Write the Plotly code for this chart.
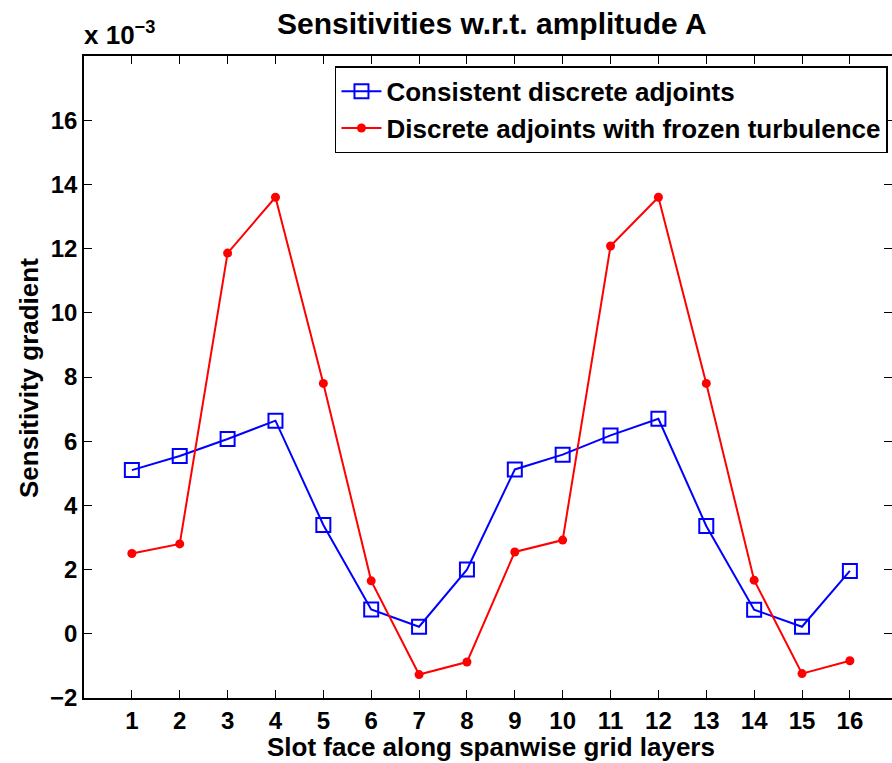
import plotly.graph_objects as go

layers = list(range(1, 17))
consistent = [5.10, 5.54, 6.07, 6.64, 3.39, 0.76, 0.22, 2.00,
              5.12, 5.58, 6.18, 6.70, 3.36, 0.75, 0.22, 1.96]
frozen = [2.50, 2.80, 11.86, 13.60, 7.80, 1.65, -1.27, -0.88,
          2.55, 2.92, 12.08, 13.60, 7.80, 1.67, -1.24, -0.84]
yticks = [-2, 0, 2, 4, 6, 8, 10, 12, 14, 16]

W, H = 892, 763
L, T, B = 84, 56, 65
FONT = "Liberation Sans, Arial, Helvetica, sans-serif"

fig = go.Figure()
fig.add_trace(go.Scatter(
    x=layers, y=consistent, mode="lines+markers",
    name="Consistent discrete adjoints",
    line=dict(color="#0000ff", width=2),
    marker=dict(symbol="square-open", size=14, color="#0000ff", line=dict(width=2, color="#0000ff")),
))
fig.add_trace(go.Scatter(
    x=layers, y=frozen, mode="lines+markers",
    name="Discrete adjoints with frozen turbulence",
    line=dict(color="#ff0000", width=2),
    marker=dict(symbol="circle", size=9, color="#ff0000"),
))
# invisible trace to activate right-side tick axis
fig.add_trace(go.Scatter(x=[1], y=[0], yaxis="y2", mode="markers",
                         marker=dict(opacity=0), showlegend=False, hoverinfo="skip"))

axis_common = dict(ticks="inside", ticklen=8, tickwidth=1, tickcolor="black",
                   showgrid=False, zeroline=False,
                   tickfont=dict(family=FONT, size=24, color="black", weight="bold"))

fig.update_layout(
    width=W, height=H,
    margin=dict(l=L, r=0, t=T, b=B),
    paper_bgcolor="white", plot_bgcolor="white",
    font=dict(family=FONT, color="black", weight="bold"),
    showlegend=True,
    legend=dict(x=0.995, y=0.984, xanchor="right", yanchor="top",
                bordercolor="black", borderwidth=1.5, bgcolor="white",
                font=dict(family=FONT, size=26, color="black", weight="bold"),
                tracegroupgap=0, itemwidth=40),
    xaxis=dict(range=[0, 16.88], tickvals=layers, showline=True, linecolor="black",
               linewidth=1.5, mirror="ticks", **axis_common),
    yaxis=dict(range=[-2, 18], tickvals=yticks, ticktext=["\u22122"] + [str(v) for v in yticks[1:]],
               showline=True, linecolor="black", linewidth=1.5, mirror=False, **axis_common),
    yaxis2=dict(range=[-2, 18], tickvals=yticks, overlaying="y", side="right",
                showticklabels=False, showline=False, ticks="inside", ticklen=8,
                tickcolor="black", showgrid=False, zeroline=False),
)

fig.add_annotation(text="Sensitivities w.r.t. amplitude A", x=492, y=H - 23, xref="paper", yref="paper",
                   showarrow=False, font=dict(family=FONT, size=30, color="black", weight="bold"),
                   xanchor="center", yanchor="middle")
fig.add_annotation(text="Slot face along spanwise grid layers", x=491, y=H - 747, xref="paper", yref="paper",
                   showarrow=False, font=dict(family=FONT, size=26, color="black", weight="bold"),
                   xanchor="center", yanchor="middle")
fig.add_annotation(text="Sensitivity gradient", x=29, y=H - 378, xref="paper", yref="paper",
                   showarrow=False, textangle=-90, font=dict(family=FONT, size=26, color="black", weight="bold"),
                   xanchor="center", yanchor="middle")
fig.add_annotation(text="x 10<sup>\u22123</sup>", x=82, y=H - 52, xref="paper", yref="paper",
                   showarrow=False, font=dict(family=FONT, size=26, color="black", weight="bold"),
                   xanchor="left", yanchor="bottom")

# convert pixel annotation positions into paper coordinates
pw, ph = W - L, H - T - B
for a in fig.layout.annotations:
    a.x = (a.x - L) / pw
    a.y = (a.y - B) / ph

fig.write_html("out.html")
